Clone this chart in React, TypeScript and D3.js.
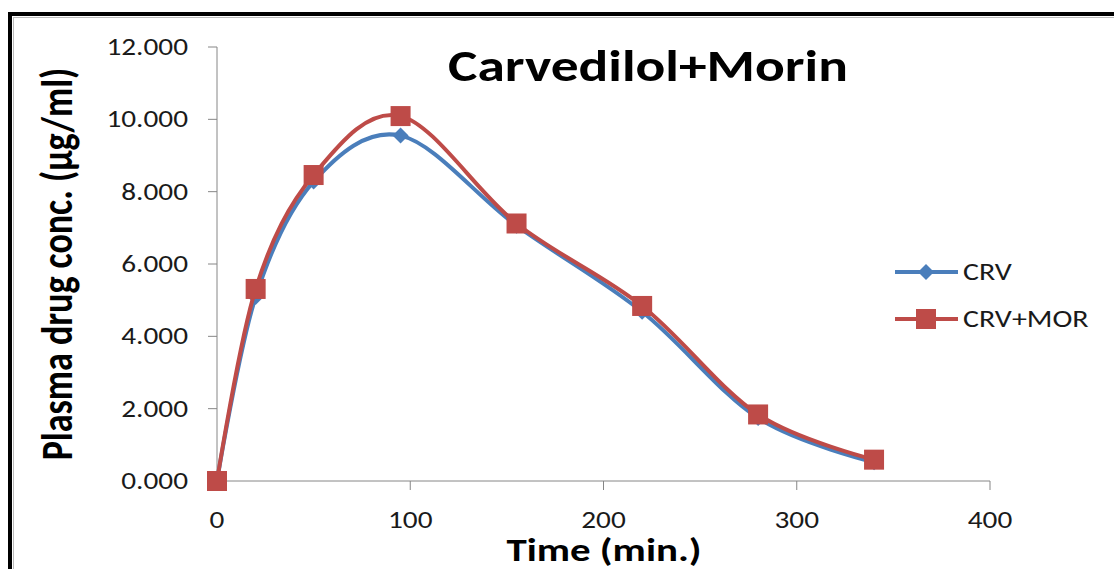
import React from "react";
import * as d3 from "d3";

const times = [0, 20, 50, 95, 155, 220, 280, 340];
const crv = [0, 5.09, 8.28, 9.55, 7.06, 4.68, 1.74, 0.52];
const crvMor = [0, 5.31, 8.46, 10.09, 7.12, 4.84, 1.84, 0.59];
const yTicks = [0, 2, 4, 6, 8, 10, 12];
const xTicks = [0, 100, 200, 300, 400];
const seriesNames = ["CRV", "CRV+MOR"];
const seriesColors = ["#4a7ebb", "#be4b48"];

const W = 1114;
const H = 569;
const font = "Carlito, Calibri, 'Open Sans', 'Liberation Sans', sans-serif";

type WideTextProps = {
  x: number;
  y: number;
  sx: number;
  size: number;
  anchor?: "start" | "middle" | "end";
  bold?: boolean;
  rotate?: number;
  dy?: string;
  children: React.ReactNode;
};

// Text drawn with a horizontal widening about its anchor point
function WideText({ x, y, sx, size, anchor = "start", bold, rotate, dy, children }: WideTextProps) {
  const rot = rotate ? ` rotate(${rotate})` : "";
  return (
    <text
      transform={`translate(${x},${y}) scale(${sx},1)${rot}`}
      textAnchor={anchor}
      dy={dy}
      fontFamily={font}
      fontSize={size}
      fontWeight={bold ? "bold" : "normal"}
      fill={bold ? "#000" : "#1a1a1a"}
    >
      {children}
    </text>
  );
}

export default function App() {
  const x = d3.scaleLinear().domain([0, 400]).range([217, 990]);
  const y = d3.scaleLinear().domain([0, 12]).range([481, 47]);
  const line = d3
    .line<[number, number]>()
    .x((d) => x(d[0]))
    .y((d) => y(d[1]))
    .curve(d3.curveCardinal.tension(0));

  const blue = times.map((t, i) => [t, crv[i]] as [number, number]);
  const red = times.map((t, i) => [t, crvMor[i]] as [number, number]);

  const diamond = (cx: number, cy: number, r: number) =>
    `M${cx},${cy - r}L${cx + r},${cy}L${cx},${cy + r}L${cx - r},${cy}Z`;

  return (
    <svg
      width={W}
      height={H}
      style={{ position: "absolute", left: 0, top: 0, background: "#fff" }}
    >
      {/* outer frame */}
      <rect x={10} y={14} width={W + 20} height={H + 20} fill="none" stroke="#000" strokeWidth={4} />
      <rect x={13.5} y={17.5} width={W + 20} height={H + 20} fill="none" stroke="#bbb" strokeWidth={1} />

      {/* axes */}
      <line x1={x(0)} x2={x(0)} y1={y(12)} y2={y(0)} stroke="#868686" strokeWidth={1} />
      <line x1={x(0)} x2={x(400)} y1={y(0)} y2={y(0)} stroke="#868686" strokeWidth={1} />
      {yTicks.map((t) => (
        <g key={"y" + t}>
          <line x1={x(0) - 9} x2={x(0)} y1={y(t)} y2={y(t)} stroke="#868686" />
          <WideText x={188} y={y(t)} dy="0.33em" sx={1.22} size={24} anchor="end">
            {t.toFixed(3)}
          </WideText>
        </g>
      ))}
      {xTicks.map((t) => (
        <g key={"x" + t}>
          <line x1={x(t)} x2={x(t)} y1={y(0)} y2={y(0) + 9} stroke="#868686" />
          <WideText x={x(t)} y={528} sx={1.22} size={24} anchor="middle">
            {t}
          </WideText>
        </g>
      ))}

      {/* series */}
      <path d={line(blue) || ""} fill="none" stroke={seriesColors[0]} strokeWidth={4} />
      {blue.map((d, i) => (
        <path key={"b" + i} d={diamond(x(d[0]), y(d[1]), 8)} fill={seriesColors[0]} />
      ))}
      <path d={line(red) || ""} fill="none" stroke={seriesColors[1]} strokeWidth={4} />
      {red.map((d, i) => (
        <rect
          key={"r" + i}
          x={x(d[0]) - 10}
          y={y(d[1]) - 10}
          width={20}
          height={20}
          fill={seriesColors[1]}
        />
      ))}

      {/* legend */}
      {seriesNames.map((name, i) => {
        const ly = 272 + i * 47;
        return (
          <g key={name}>
            <line x1={895} x2={958} y1={ly} y2={ly} stroke={seriesColors[i]} strokeWidth={4} />
            {i === 0 ? (
              <path d={diamond(926, ly, 8)} fill={seriesColors[i]} />
            ) : (
              <rect x={916} y={ly - 10} width={20} height={20} fill={seriesColors[i]} />
            )}
            <WideText x={963} y={ly} dy="0.35em" sx={1.25} size={24}>
              {name}
            </WideText>
          </g>
        );
      })}

      {/* titles */}
      <WideText x={648} y={81} sx={1.26} size={44} anchor="middle" bold>
        Carvedilol+Morin
      </WideText>
      <WideText x={604} y={561} sx={1.24} size={33} anchor="middle" bold>
        Time (min.)
      </WideText>
      <WideText x={72} y={264} sx={1.25} size={36} anchor="middle" bold rotate={-90}>
        Plasma drug conc. (µg/ml)
      </WideText>
    </svg>
  );
}
